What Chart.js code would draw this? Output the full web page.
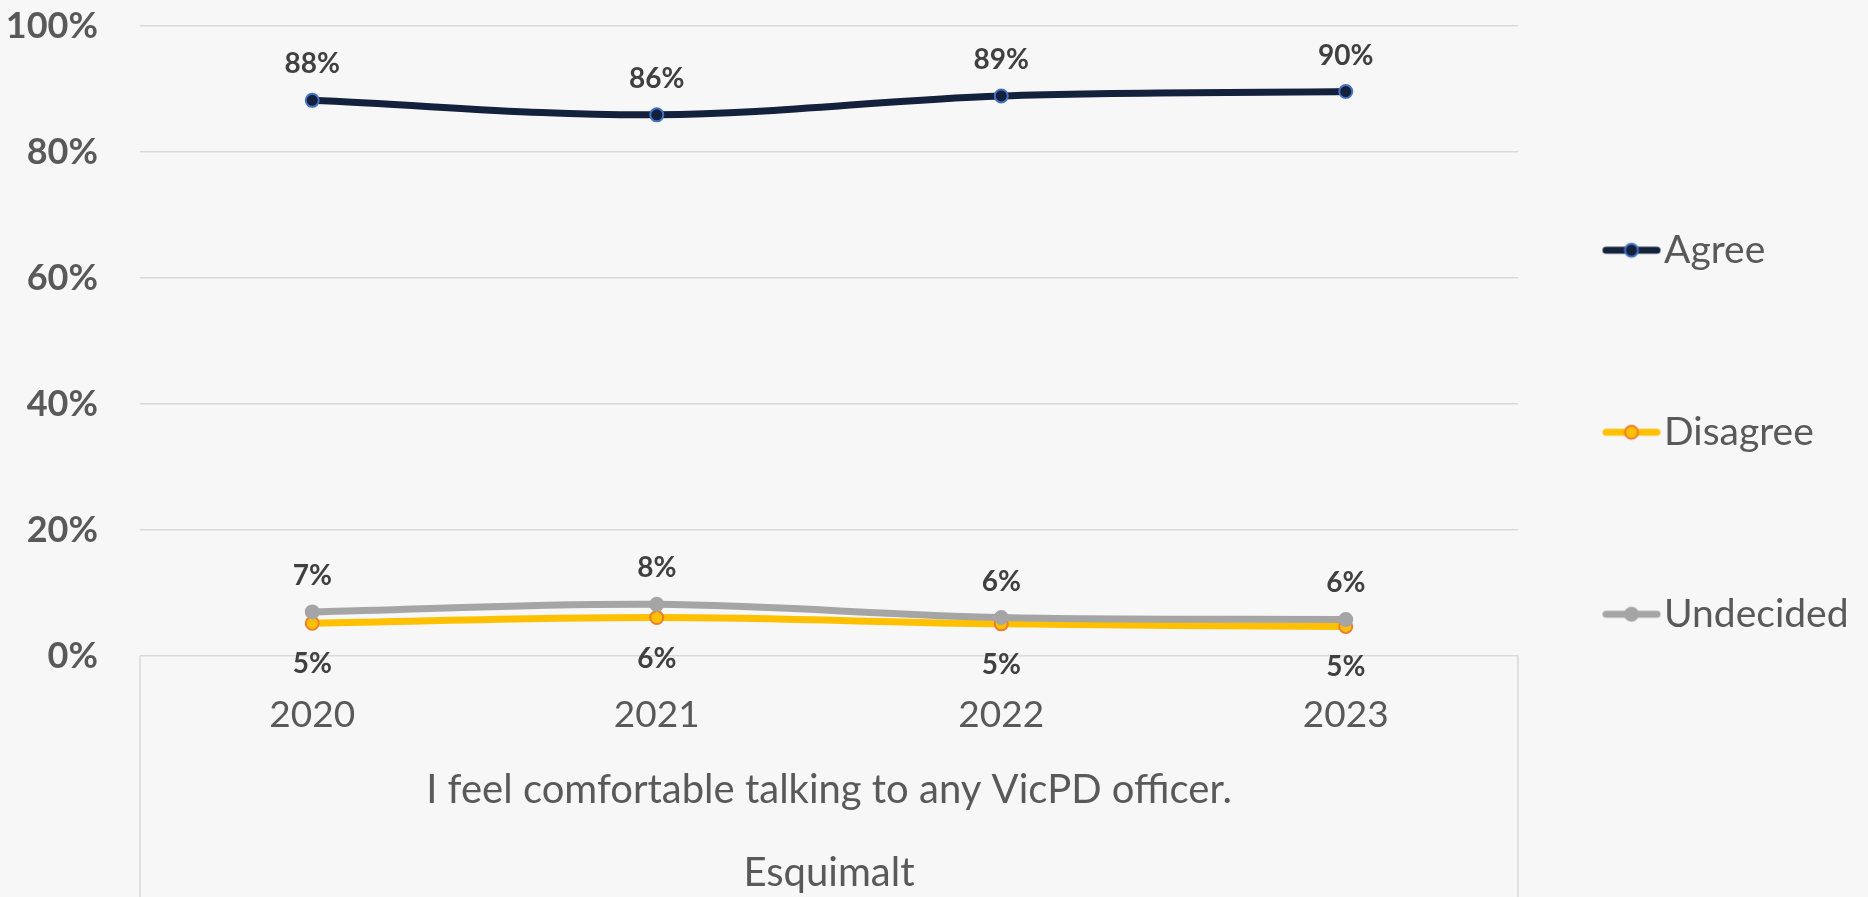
<!DOCTYPE html>
<html><head><meta charset="utf-8">
<script src="https://cdn.jsdelivr.net/npm/chart.js@4.4.1/dist/chart.umd.min.js"></script>
<style>html,body{margin:0;padding:0;background:#f7f7f7;overflow:hidden}</style>
</head><body><canvas id="c" width="1868" height="897"></canvas>
<script>
const categories = ['2020', '2021', '2022', '2023'];
const seriesNames = ['Agree', 'Disagree', 'Undecided'];
const agree = [88.2, 85.9, 88.9, 89.6];
const disagree = [5.2, 6.1, 5.1, 4.7];
const undecided = [7.0, 8.2, 6.1, 5.8];
const yTicks = [0, 20, 40, 60, 80, 100];
const axisTitle = ['I feel comfortable talking to any VicPD officer.', 'Esquimalt'];

const FONT = 'Lato';
const TEXT = '#595959';
const LEG_PAD = 100.5, LEG_BOX = 26, LEG_FS = 39;

const mctx = document.createElement('canvas').getContext('2d');
mctx.font = LEG_FS + 'px ' + FONT;
const maxText = Math.max(...seriesNames.map(s => mctx.measureText(s).width));
const legendWidth = LEG_PAD + LEG_BOX + LEG_FS / 2 + maxText + 10;
const padRight = 1868 - 1518 - legendWidth;

function markerImage(line, fill, border) {
  const c = document.createElement('canvas');
  c.width = 60; c.height = 20;
  const g = c.getContext('2d');
  g.lineCap = 'round'; g.lineWidth = 7; g.strokeStyle = line;
  g.beginPath(); g.moveTo(4.5, 10); g.lineTo(55.5, 10); g.stroke();
  g.beginPath(); g.arc(30, 10, 6.5, 0, Math.PI * 2);
  g.fillStyle = fill; g.fill(); g.lineWidth = 2; g.strokeStyle = border; g.stroke();
  return c;
}

const bg = { id: 'bg', beforeDraw(chart) { const c = chart.ctx; c.save(); c.fillStyle = '#f7f7f7'; c.fillRect(0, 0, chart.width, chart.height); c.restore(); } };
const boxLines = { id: 'boxLines', beforeDatasetsDraw(chart) {
  const { ctx, chartArea: a } = chart; ctx.save(); ctx.strokeStyle = '#d9d9d9'; ctx.lineWidth = 1.5; ctx.beginPath();
  [a.left, a.right].forEach(x => { ctx.moveTo(x, a.bottom); ctx.lineTo(x, chart.height); }); ctx.stroke(); ctx.restore(); } };
const dataLabels = { id: 'dataLabels', afterDatasetsDraw(chart) {
  const ctx = chart.ctx; ctx.save();
  ctx.font = 'bold 28px ' + FONT; ctx.fillStyle = '#404040'; ctx.textAlign = 'center'; ctx.textBaseline = 'middle';
  chart.data.datasets.forEach((ds, i) => {
    chart.getDatasetMeta(i).data.forEach((pt, j) => {
      const dy = ds.labelPos === 'below' ? 41 : -36;
      ctx.fillText(Math.round(ds.data[j]) + '%', pt.x, pt.y + dy);
    });
  });
  ctx.restore(); } };

new Chart(document.getElementById('c'), {
  type: 'line',
  data: {
    labels: categories,
    datasets: [
      { label: seriesNames[0], data: agree, borderColor: '#13213c', backgroundColor: '#13213c', pointBackgroundColor: '#13213c', pointBorderColor: '#4472c4', order: 2, labelPos: 'above' },
      { label: seriesNames[1], data: disagree, borderColor: '#ffc000', backgroundColor: '#ffc000', pointBackgroundColor: '#ffc000', pointBorderColor: '#ed7d31', order: 1, labelPos: 'below' },
      { label: seriesNames[2], data: undecided, borderColor: '#a5a5a5', backgroundColor: '#a5a5a5', pointBackgroundColor: '#a5a5a5', pointBorderColor: '#a5a5a5', order: 0, labelPos: 'above' }
    ]
  },
  options: {
    responsive: false, animation: false,
    layout: { padding: { top: 26, right: padRight, bottom: 16, left: 0 } },
    elements: { line: { borderWidth: 7, tension: 0.35, borderCapStyle: 'round' }, point: { radius: 6.5, borderWidth: 2, hoverRadius: 6.5 } },
    scales: {
      x: {
        offset: true, grid: { display: false }, border: { display: false },
        ticks: { font: { family: FONT, size: 37 }, color: TEXT, padding: 29 },
        title: { display: true, text: axisTitle, color: TEXT, font: { family: FONT, size: 40, lineHeight: 83 / 40 }, padding: { top: 0, bottom: -33.5 } },
        afterFit(s) { s.height = 225; }
      },
      y: {
        min: 0, max: 100,
        afterBuildTicks(s) { s.ticks = yTicks.map(v => ({ value: v })); },
        grid: { color: '#d9d9d9', lineWidth: 1.5, drawTicks: true, tickLength: 42, tickColor: 'rgba(0,0,0,0)' }, border: { display: false },
        ticks: { padding: 0, font: { family: FONT, size: 36, weight: 'bold' }, color: TEXT, callback: v => v + '%' },
        afterFit(s) { s.width = 140; }
      }
    },
    plugins: {
      tooltip: { enabled: false },
      legend: {
        position: 'right', align: 'center',
        labels: {
          font: { family: FONT, size: LEG_FS, lineHeight: 81.5 / LEG_FS }, color: TEXT,
          padding: LEG_PAD, usePointStyle: true, pointStyleWidth: LEG_BOX,
          generateLabels(chart) {
            const items = Chart.defaults.plugins.legend.labels.generateLabels(chart);
            items.sort((a, b) => a.datasetIndex - b.datasetIndex);
            return items.map(it => {
              const ds = chart.data.datasets[it.datasetIndex];
              return Object.assign(it, { text: [it.text], pointStyle: markerImage(ds.borderColor, ds.pointBackgroundColor, ds.pointBorderColor), fontColor: TEXT });
            });
          }
        }
      }
    }
  },
  plugins: [bg, boxLines, dataLabels]
});
</script></body></html>
